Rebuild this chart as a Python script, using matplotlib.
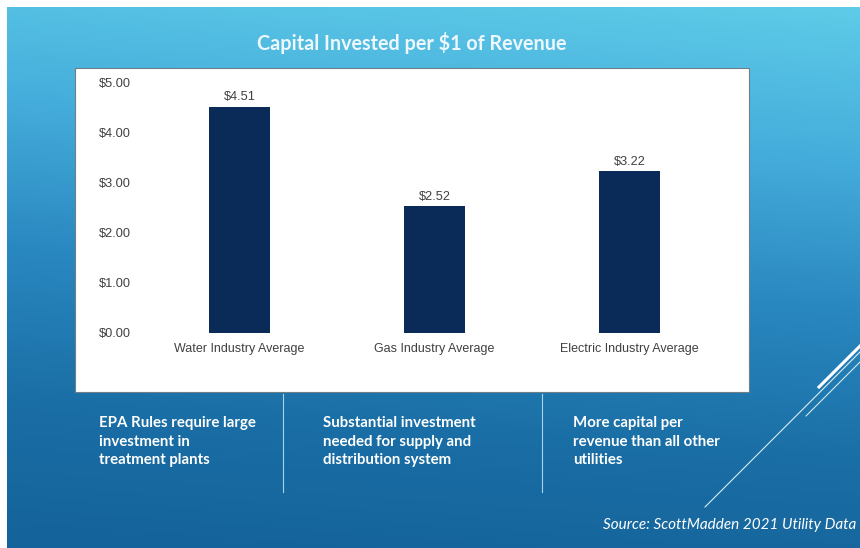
import numpy as np
import matplotlib
matplotlib.use("Agg")
import matplotlib.pyplot as plt
from matplotlib.colors import LinearSegmentedColormap
from matplotlib.patches import Rectangle

# data
categories = ["Water Industry Average", "Gas Industry Average", "Electric Industry Average"]
values = [4.51, 2.52, 3.22]
yticks = [0, 1, 2, 3, 4, 5]
notes = [
    "EPA Rules require large\ninvestment in\ntreatment plants",
    "Substantial investment\nneeded for supply and\ndistribution system",
    "More capital per\nrevenue than all other\nutilities",
]

W, H = 860, 548
fig = plt.figure(figsize=(W / 100, H / 100), dpi=100)
fig.patch.set_facecolor("white")

# slide background (gradient)
bg = fig.add_axes([0, 0, 1, 1])
bg.set_xlim(0, W)
bg.set_ylim(H, 0)
bg.axis("off")
cmap = LinearSegmentedColormap.from_list(
    "slide", ["#5ecbe8", "#45addb", "#2a88c0", "#1a6fa6", "#14639a"])
yy, xx = np.mgrid[0:1:200j, 0:1:200j]
grad = yy * 0.9 + (1 - xx) * 0.1
bg.imshow(grad, cmap=cmap, extent=(7, W, H, 7), aspect="auto", zorder=0)

# white chart box
bg.add_patch(Rectangle((75, 68), 674, 324, facecolor="white",
                       edgecolor="#6f7f8a", linewidth=0.8, zorder=1))

# title
bg.text(412, 43, "Capital Invested per $1 of Revenue", color="#eef8fc",
        fontsize=14.2, fontweight="bold", family=["Lato", "DejaVu Sans"],
        ha="center", va="center", zorder=2)

# divider lines under box
for x in (283, 542):
    bg.plot([x, x], [394, 492], color="#a9d3ea", linewidth=0.8, zorder=2)

# notes
for x, txt in zip((99, 323, 573), notes):
    bg.text(x, 416, txt, color="white", fontsize=10.8, fontweight="bold",
            family=["Lato", "DejaVu Sans"], ha="left", va="top",
            linespacing=1.42, zorder=2)

# source (slightly smaller than the slide so it stays inside the picture)
bg.text(603, 525, "Source: ScottMadden 2021 Utility Data", color="white",
        fontsize=11.0, style="italic", family=["Lato", "DejaVu Sans"],
        ha="left", va="center", zorder=2)

# decorative diagonal lines
bg.plot([705, 860], [507, 352], color="#d8eef8", linewidth=0.8, zorder=2)
bg.plot([806, 860], [416, 362], color="#cde8f5", linewidth=0.8, zorder=2)
bg.plot([819, 860], [387, 346], color="white", linewidth=2.2, zorder=2)

# bar chart
ax = fig.add_axes([142 / W, 1 - 333 / H, 585 / W, 251 / H])
ax.patch.set_alpha(0)
x = np.arange(len(categories))
bars = ax.bar(x, values, width=0.31, color="#0a2a58")
ax.set_xlim(-0.5, 2.5)
ax.set_ylim(0, 5)
ax.set_yticks(yticks)
ax.set_yticklabels([f"${v:.2f}" for v in yticks])
ax.set_xticks(x)
ax.set_xticklabels(categories)
for s in ax.spines.values():
    s.set_visible(False)
ax.tick_params(axis="y", length=0, pad=8, labelsize=9.2, labelcolor="#404040")
ax.tick_params(axis="x", length=0, pad=7.5, labelsize=9, labelcolor="#404040")
for lab in ax.get_xticklabels() + ax.get_yticklabels():
    lab.set_family(["Liberation Sans", "DejaVu Sans"])

for b, v in zip(bars, values):
    ax.annotate(f"${v:.2f}", (b.get_x() + b.get_width() / 2, v),
                xytext=(0, 2.5), textcoords="offset points",
                ha="center", va="bottom", fontsize=9.2, color="#404040",
                family=["Liberation Sans", "DejaVu Sans"])

fig.savefig("out.png", dpi=100)
